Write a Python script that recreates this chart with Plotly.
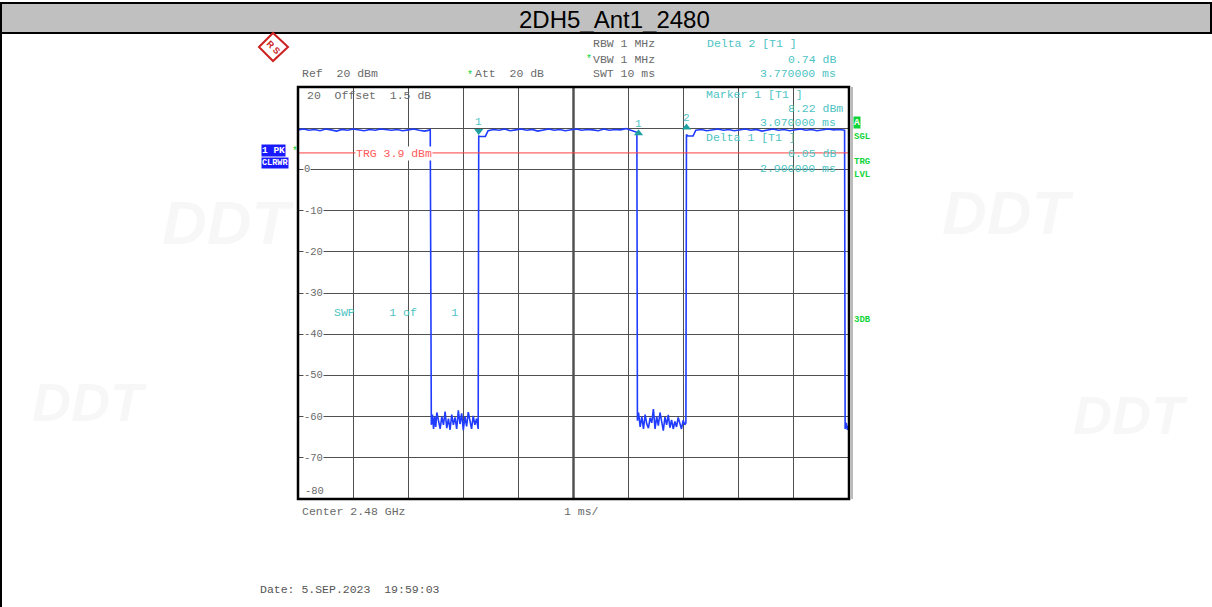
import plotly.graph_objects as go

# ---------------- data ----------------
# trace segments (time in ms, level in dBm)
t_high1 = [0.00, 0.10, 0.20, 0.30, 0.40, 0.50, 0.60, 0.70, 0.80, 0.90, 1.00, 1.10, 1.20,
           1.30, 1.40, 1.50, 1.60, 1.70, 1.80, 1.90, 2.00, 2.10, 2.20, 2.30, 2.40]
l_high1 = [9.6, 9.8, 9.5, 9.7, 9.4, 9.8, 9.6, 9.3, 9.7, 9.5, 9.8, 9.6, 9.4,
           9.7, 9.5, 9.8, 9.6, 9.5, 9.7, 9.4, 9.6, 9.8, 9.5, 9.3, 9.6]
t_low1 = [2.41, 2.42, 2.44, 2.46, 2.48, 2.50, 2.52, 2.55, 2.58, 2.61, 2.64, 2.67, 2.70, 2.73,
          2.76, 2.79, 2.82, 2.85, 2.88, 2.91, 2.94, 2.97, 3.00, 3.03, 3.06, 3.09, 3.12, 3.15,
          3.18, 3.21, 3.24, 3.27]
l_low1 = [-51.0, -62.0, -59.5, -63.0, -60.0, -62.5, -59.0, -61.5, -63.0, -60.0, -62.0, -58.8,
          -62.8, -60.5, -63.2, -59.5, -62.0, -60.2, -63.0, -58.5, -61.8, -59.2, -63.3, -60.0,
          -62.4, -58.9, -61.0, -63.0, -59.8, -62.0, -60.5, -63.0]
t_high2 = [3.28, 3.29, 3.40, 3.45, 3.55, 3.65, 3.75, 3.85, 3.95, 4.05, 4.15, 4.25, 4.35, 4.45,
           4.55, 4.65, 4.75, 4.85, 4.95, 5.05, 5.15, 5.25, 5.35, 5.45, 5.55, 5.65, 5.75, 5.85,
           5.95, 6.05, 6.14]
l_high2 = [8.2, 8.0, 8.0, 9.4, 9.7, 9.5, 9.8, 9.4, 9.6, 9.8, 9.5, 9.7, 9.3, 9.6, 9.8, 9.5,
           9.7, 9.4, 9.6, 9.8, 9.5, 9.7, 9.6, 9.4, 9.8, 9.5, 9.7, 9.6, 9.9, 9.5, 9.2]
t_low2 = [6.15, 6.16, 6.18, 6.21, 6.24, 6.27, 6.30, 6.33, 6.36, 6.39, 6.42, 6.45, 6.48, 6.51,
          6.54, 6.57, 6.60, 6.63, 6.66, 6.69, 6.72, 6.75, 6.78, 6.81, 6.84, 6.87, 6.90, 6.93,
          6.96, 6.99, 7.02, 7.04]
l_low2 = [9.0, -61.0, -59.0, -62.5, -60.0, -63.0, -59.5, -61.8, -62.8, -60.3, -61.5, -58.2,
          -63.0, -60.0, -62.2, -59.0, -61.6, -63.4, -60.1, -62.0, -59.6, -62.7, -60.8, -63.0,
          -61.2, -62.5, -60.2, -61.8, -63.0, -60.9, -62.0, -61.5]
t_high3 = [7.05, 7.07, 7.17, 7.22, 7.32, 7.42, 7.52, 7.62, 7.72, 7.82, 7.92, 8.02, 8.12, 8.22,
           8.32, 8.42, 8.52, 8.62, 8.72, 8.82, 8.92, 9.02, 9.12, 9.22, 9.32, 9.42, 9.52, 9.62,
           9.72, 9.82, 9.92]
l_high3 = [8.5, 8.1, 8.1, 9.5, 9.7, 9.4, 9.6, 9.8, 9.5, 9.7, 9.4, 9.6, 9.8, 9.5, 9.7, 9.3,
           9.6, 9.8, 9.5, 9.7, 9.4, 9.6, 9.8, 9.5, 9.7, 9.4, 9.6, 9.8, 9.6, 9.7, 9.5]
t_tail = [9.93, 9.95, 9.97, 10.00]
l_tail = [-63.0, -61.5, -63.2, -62.0]

# markers
marker_t = [3.28, 6.18, 7.05]
marker_lvl = [9.3, 8.8, 10.2]
marker_labels = ["1", "1", "2"]
marker_symbols = ["triangle-down", "triangle-up", "triangle-up"]

trigger_level = 4.0
y_tick_vals = [0, -10, -20, -30, -40, -50, -60, -70]
y_tick_text = ["0", "-10", "-20", "-30", "-40", "-50", "-60", "-70"]

title_text = "2DH5_Ant1_2480"

# ---------------- layout helpers ----------------
W, H = 1212, 607
X0, X1, Y0, Y1 = 298, 849, 87, 499


def px(x):
    return (x - X0) / (X1 - X0)


def py(y):
    return (Y1 - y) / (Y1 - Y0)


MONO = "Liberation Mono, Courier New, monospace"
GREY = "#6a6a6a"
CYAN = "#4ec3c3"
GREEN = "#11d43a"
BLUE = "#1f3cff"

t_all = t_high1 + t_low1 + t_high2 + t_low2 + t_high3 + t_tail
l_all = l_high1 + l_low1 + l_high2 + l_low2 + l_high3 + l_tail

fig = go.Figure()
fig.add_trace(go.Scatter(x=t_all, y=l_all, mode="lines",
                         line=dict(color=BLUE, width=1.6), hoverinfo="skip"))
fig.add_trace(go.Scatter(x=marker_t, y=marker_lvl, mode="markers",
                         marker=dict(symbol=marker_symbols, color="#1fa0a0", size=8),
                         hoverinfo="skip"))

annotations = []


def txt(s, x, y, color=GREY, size=11.5, anchor="left", bg=None, family=MONO, bold=False):
    d = dict(text=("<b>%s</b>" % s) if bold else s, x=px(x), y=py(y), xref="paper", yref="paper",
             xanchor=anchor, yanchor="middle", showarrow=False,
             font=dict(family=family, size=size, color=color))
    if bg:
        d["bgcolor"] = bg
        d["borderpad"] = 0
    annotations.append(d)


# faint watermarks (drawn first so they sit underneath the other texts)
for (wx, wy, sz) in [(228, 222, 62), (1008, 212, 62), (90, 402, 54), (1130, 415, 54)]:
    annotations.append(dict(text="<i><b>DDT</b></i>", x=px(wx), y=py(wy), xref="paper",
                            yref="paper", showarrow=False, xanchor="center", yanchor="middle",
                            font=dict(family="Liberation Sans", size=sz, color="rgba(0,0,0,0.03)")))

# marker labels
for t, lv, lab in zip(marker_t, marker_lvl, marker_labels):
    annotations.append(dict(text=lab, x=t, y=lv + 2.3, xref="x", yref="y", showarrow=False,
                            xanchor="center", yanchor="middle",
                            font=dict(family=MONO, size=11, color=CYAN)))

# y tick labels inside plot
for v, s in zip(y_tick_vals, y_tick_text):
    annotations.append(dict(text=s, x=px(303), y=v, xref="paper", yref="y", showarrow=False,
                            xanchor="left", yanchor="middle", bgcolor="white", borderpad=0,
                            font=dict(family=MONO, size=10.5, color=GREY)))
txt("-80", 303, 491, size=10.5)

# header
txt("Ref  20 dBm", 300, 74)
txt("*", 465, 75, color=GREEN, size=10)
txt("Att  20 dB", 473, 74)
txt("RBW 1 MHz", 591, 44)
txt("*", 584, 60, color=GREEN, size=10)
txt("VBW 1 MHz", 591, 59)
txt("SWT 10 ms", 591, 74)
txt("Delta 2 [T1 ]", 705, 44, color=CYAN)
txt("0.74 dB", 838, 59, color=CYAN, anchor="right")
txt("3.770000 ms", 838, 74, color=CYAN, anchor="right")
txt("Marker 1 [T1 ]", 704, 94, color=CYAN)
txt("8.22 dBm", 845, 109, color=CYAN, anchor="right")
txt("3.070000 ms", 838, 123, color=CYAN, anchor="right")
txt("Delta 1 [T1 ]", 704, 138, color=CYAN)
txt("0.05 dB", 838, 153, color=CYAN, anchor="right")
txt("2.900000 ms", 838, 168, color=CYAN, anchor="right")
txt("20  Offset  1.5 dB", 305, 95)
txt("SWP     1 of     1", 332, 312, color=CYAN)
txt("Center 2.48 GHz", 300, 511)
txt("1 ms/", 562, 511)
txt("Date: 5.SEP.2023  19:59:03", 258, 589, color="#555555")
txt("TRG 3.9 dBm", 355, 153, color="#ff5a5a", bg="white")

# left boxes
txt("1 PK", 261, 150, color="white", size=9.5, bg="#1a1aff", bold=True)
txt("CLRWR", 261, 163, color="white", size=8.5, bg="#1a1aff", bold=True)
txt("*", 290, 151, color=GREEN, size=10)

# right status
txt("A", 853, 123, color="white", size=9.5, bg="#11d43a", bold=True)
txt("SGL", 852, 137, color=GREEN, size=9, bold=True)
txt("TRG", 852, 162, color=GREEN, size=9, bold=True)
txt("LVL", 852, 175, color=GREEN, size=9, bold=True)
txt("3DB", 852, 320, color=GREEN, size=9, bold=True)

# title
annotations.append(dict(text=title_text, x=px(614), y=py(19), xref="paper", yref="paper",
                        xanchor="center", yanchor="middle", showarrow=False,
                        font=dict(family="Liberation Sans, Arial, sans-serif", size=24, color="black")))

# R&S logo
annotations.append(dict(text="<b>R S</b>", x=px(273), y=py(47), xref="paper", yref="paper",
                        xanchor="center", yanchor="middle", showarrow=False, textangle=45,
                        font=dict(family="Liberation Sans", size=9, color="#cc2222")))

shapes = []
# title bar
shapes.append(dict(type="rect", xref="paper", yref="paper", x0=px(0), x1=px(1212),
                   y0=py(33), y1=py(3), fillcolor="#c0c0c0", line=dict(width=0), layer="below"))
shapes.append(dict(type="line", xref="paper", yref="paper", x0=px(0), x1=px(1212),
                   y0=py(3), y1=py(3), line=dict(color="black", width=2)))
shapes.append(dict(type="line", xref="paper", yref="paper", x0=px(0), x1=px(1212),
                   y0=py(33), y1=py(33), line=dict(color="black", width=2)))
shapes.append(dict(type="line", xref="paper", yref="paper", x0=px(1), x1=px(1),
                   y0=py(3), y1=py(607), line=dict(color="black", width=2)))
shapes.append(dict(type="line", xref="paper", yref="paper", x0=px(1211), x1=px(1211),
                   y0=py(3), y1=py(33), line=dict(color="black", width=2)))
# logo diamond
shapes.append(dict(type="path", xref="paper", yref="paper",
                   path="M %f %f L %f %f L %f %f L %f %f Z" % (px(259), py(47), px(273), py(33),
                                                               px(288), py(47), px(273), py(61)),
                   line=dict(color="#cc2222", width=2), fillcolor="white"))
# trigger line
shapes.append(dict(type="line", xref="paper", yref="y", x0=0, x1=1, y0=trigger_level,
                   y1=trigger_level, line=dict(color="#ff4040", width=1)))
# center line
shapes.append(dict(type="line", xref="x", yref="paper", x0=5, x1=5, y0=0, y1=1,
                   line=dict(color="black", width=2), layer="below"))
# frame
shapes.append(dict(type="rect", xref="paper", yref="paper", x0=0, x1=1, y0=0, y1=1,
                   line=dict(color="black", width=2.5)))
shapes.append(dict(type="line", xref="paper", yref="paper", x0=px(852), x1=px(852),
                   y0=0, y1=1, line=dict(color="#777777", width=1)))

fig.update_layout(
    width=W, height=H, autosize=False,
    margin=dict(l=X0, r=W - X1, t=Y0, b=H - Y1, pad=0),
    paper_bgcolor="white", plot_bgcolor="white",
    showlegend=False,
    xaxis=dict(range=[0, 10], dtick=1, tick0=0, showgrid=True, gridcolor="#505050", gridwidth=1,
               showticklabels=False, zeroline=False, ticks="", fixedrange=True),
    yaxis=dict(range=[-80, 20], dtick=10, tick0=0, showgrid=True, gridcolor="#505050", gridwidth=1,
               showticklabels=False, zeroline=False, ticks="", fixedrange=True),
    annotations=annotations,
    shapes=shapes,
)

fig.write_html("out.html", config={"displayModeBar": False},
               post_script="document.body.style.margin='0';")
